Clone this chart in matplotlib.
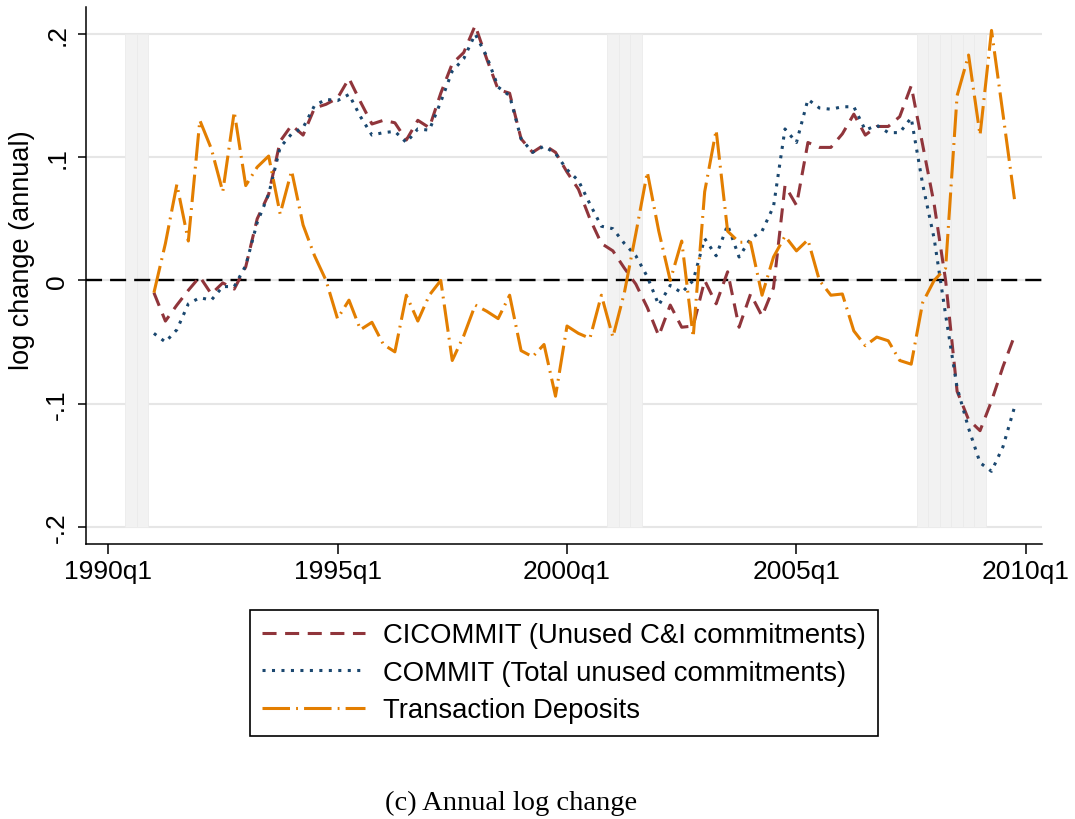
import numpy as np
import pandas as pd
import matplotlib
matplotlib.use("Agg")
import matplotlib.pyplot as plt

plt.rcParams['font.family'] = ['Liberation Sans', 'DejaVu Sans']

# quarterly data, 1991q1 - 2009q4
quarters = pd.period_range('1991Q1', '2009Q4', freq='Q')
cicommit = [-0.010, -0.033, -0.020, -0.008, 0.003, -0.011, -0.002, -0.007,
            0.011, 0.050, 0.070, 0.113, 0.126, 0.118, 0.140, 0.143,
            0.148, 0.164, 0.145, 0.127, 0.130, 0.128, 0.114, 0.130,
            0.124, 0.152, 0.176, 0.185, 0.207, 0.180, 0.155, 0.152,
            0.115, 0.104, 0.110, 0.104, 0.088, 0.074, 0.050, 0.030,
            0.024, 0.010, -0.003, -0.022, -0.045, -0.020, -0.038, -0.037,
            0.000, -0.019, 0.007, -0.038, -0.011, -0.029, -0.006, 0.077,
            0.061, 0.112, 0.108, 0.108, 0.119, 0.135, 0.118, 0.125,
            0.125, 0.133, 0.158, 0.110, 0.062, 0.000, -0.090, -0.113,
            -0.122, -0.098, -0.070, -0.045]
commit = [-0.043, -0.050, -0.040, -0.019, -0.014, -0.016, -0.005, -0.005,
          0.012, 0.047, 0.070, 0.108, 0.119, 0.124, 0.142, 0.147,
          0.146, 0.151, 0.133, 0.118, 0.120, 0.121, 0.112, 0.123,
          0.122, 0.145, 0.170, 0.180, 0.200, 0.182, 0.157, 0.150,
          0.115, 0.104, 0.109, 0.103, 0.090, 0.081, 0.062, 0.044,
          0.042, 0.030, 0.020, 0.003, -0.020, -0.004, -0.010, 0.000,
          0.034, 0.020, 0.045, 0.019, 0.034, 0.040, 0.060, 0.123,
          0.112, 0.147, 0.140, 0.139, 0.141, 0.141, 0.122, 0.126,
          0.120, 0.120, 0.132, 0.078, 0.034, -0.028, -0.087, -0.120,
          -0.148, -0.155, -0.135, -0.103]
deposits = [-0.010, 0.030, 0.078, 0.032, 0.130, 0.107, 0.072, 0.137,
            0.077, 0.092, 0.101, 0.054, 0.089, 0.045, 0.020, 0.000,
            -0.031, -0.016, -0.040, -0.034, -0.052, -0.058, -0.012, -0.033,
            -0.012, 0.000, -0.065, -0.045, -0.020, -0.025, -0.031, -0.012,
            -0.057, -0.062, -0.052, -0.094, -0.037, -0.043, -0.047, -0.012,
            -0.046, -0.010, 0.038, 0.088, 0.040, 0.000, 0.032, -0.046,
            0.072, 0.122, 0.040, 0.031, 0.031, -0.012, 0.019, 0.036,
            0.024, 0.033, 0.000, -0.012, -0.011, -0.041, -0.053, -0.046,
            -0.049, -0.065, -0.068, -0.018, 0.000, 0.010, 0.150, 0.183,
            0.118, 0.203, 0.135, 0.066]
# NBER recession quarters
recessions = pd.PeriodIndex(['1990Q3', '1990Q4', '2001Q1', '2001Q2', '2001Q3',
                             '2007Q4', '2008Q1', '2008Q2', '2008Q3', '2008Q4',
                             '2009Q1'], freq='Q')


def to_year(p):
    return p.year + (p.quarter - 1) / 4.0


t = to_year(quarters)
t_rec = to_year(recessions)

fig = plt.figure(figsize=(10.75, 8.2), dpi=100)
ax = fig.add_axes([86/1075, 1-545/820, 956/1075, 537/820])

ax.bar(t_rec, 0.4, bottom=-0.2, width=0.25, color='#f2f2f2',
       edgecolor='#ebebeb', linewidth=0.6, zorder=1)
for yv in [-0.2, -0.1, 0.0, 0.1, 0.2]:
    ax.axhline(yv, color='#e6e6e6', lw=1.5, zorder=0.5)
ax.axhline(0, color='black', lw=1.7, ls=(0, (6.8, 3.4)), zorder=2)

ax.plot(t, cicommit, color='#90353b', lw=2.2, ls=(0, (4.6, 2.8)),
        label='CICOMMIT (Unused C&I commitments)', zorder=3)
ax.plot(t, commit, color='#1a476f', lw=2.2, ls=(0, (1, 2.1)),
        label='COMMIT (Total unused commitments)', zorder=3)
ax.plot(t, deposits, color='#e37e00', lw=2.2, ls=(0, (9, 2, 0.6, 2)),
        label='Transaction Deposits', zorder=3)

ax.set_xlim(1989.52, 2010.35)
ax.set_ylim(-0.214, 0.222)
ax.set_xticks([1990, 1995, 2000, 2005, 2010])
ax.set_xticklabels(['1990q1', '1995q1', '2000q1', '2005q1', '2010q1'])
ax.set_yticks([-0.2, -0.1, 0, 0.1, 0.2])
ax.set_yticklabels(['-.2', '-.1', '0', '.1', '.2'], rotation=90, va='center')
ax.tick_params(axis='x', labelsize=19, length=7, width=1.1, pad=4)
ax.tick_params(axis='y', labelsize=19, length=6, width=1.1, pad=6)
for s in ['top', 'right']:
    ax.spines[s].set_visible(False)
for s in ['left', 'bottom']:
    ax.spines[s].set_linewidth(1.1)

fig.text(22/1075, 1-250/820, 'log change (annual)', rotation=90,
         ha='center', va='center', fontsize=19.5)

leg = fig.legend(loc='upper center', bbox_to_anchor=(564/1075, 1-597/820),
                 fontsize=19.8, frameon=True, fancybox=False, framealpha=1,
                 edgecolor='black', handlelength=3.75, handletextpad=0.65,
                 labelspacing=0.42, borderpad=0.45)
leg.get_frame().set_linewidth(1.2)

fig.text(511/1075, 1-803/820, '(c) Annual log change', ha='center', va='center',
         fontsize=20.5, family='Liberation Serif')

fig.savefig('out.png', dpi=100)
